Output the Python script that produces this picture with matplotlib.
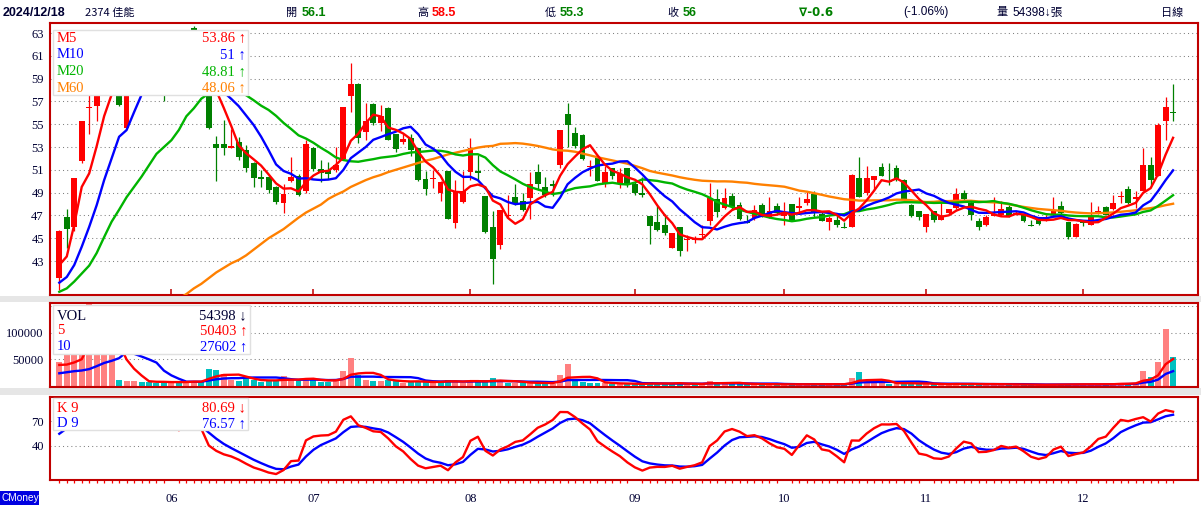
import numpy as np
import pandas as pd
import matplotlib
matplotlib.use("Agg")
import matplotlib.pyplot as plt
from matplotlib.patches import Rectangle

# daily candles, 2024/05/13 .. 2024/12/18
opens = [41.5, 46.9, 46.0, 51.8, 56.4, 56.6, 57.8, 59.5, 59.5, 54.7,
         58.8, 61.8, 61.0, 60.0, 59.0, 58.5, 59.5, 58.8, 63.4, 61.0,
         60.0, 53.3, 53.3, 52.95, 53.4, 52.7, 51.6, 50.4, 50.4, 49.5,
         48.1, 50.05, 50.5, 49.1, 52.9, 51.1, 51.0, 51.0, 51.95, 57.5,
         58.5, 54.3, 56.8, 55.1, 56.4, 54.1, 53.4, 53.8, 52.9, 50.2,
         50.2, 48.95, 50.9, 46.3, 48.15, 50.8, 50.9, 48.7, 46.0, 44.4,
         46.95, 48.6, 48.3, 48.5, 50.85, 49.5, 49.75, 51.45, 55.9, 54.2,
         54.05, 51.25, 52.0, 49.8, 51.15, 49.85, 51.15, 49.8, 48.95, 46.95,
         46.4, 46.2, 44.15, 45.95, 44.85, 44.85, 45.25, 46.55, 48.45, 47.65,
         48.7, 47.95, 46.5, 46.8, 47.95, 46.9, 47.85, 46.95, 48.0, 47.65,
         48.05, 48.9, 47.15, 46.4, 46.6, 45.95, 46.0, 50.3, 48.95, 50.1,
         51.25, 49.95, 51.15, 50.1, 47.95, 47.35, 46.0, 47.35, 46.6, 47.2,
         47.65, 48.95, 48.1, 46.55, 46.2, 46.95, 47.05, 47.75, 47.05, 47.05,
         46.15, 46.6, 46.8, 47.05, 47.85, 46.4, 45.15, 46.55, 46.2, 47.3,
         47.75, 47.55, 48.6, 49.3, 48.45, 49.1, 51.45, 50.5, 55.3, 56.1]
highs = [45.7, 47.6, 50.3, 55.3, 57.6, 58.4, 59.5, 61.0, 60.0, 59.0,
         62.0, 62.5, 61.5, 60.5, 59.8, 60.0, 60.0, 61.0, 63.6, 62.0,
         60.5, 54.0, 55.4, 54.6, 53.9, 53.2, 51.7, 51.0, 50.5, 49.6,
         49.8, 52.1, 50.6, 53.6, 53.0, 51.9, 51.7, 53.0, 56.5, 60.4,
         58.6, 56.9, 56.9, 56.7, 56.5, 54.1, 54.1, 54.1, 52.9, 50.9,
         51.0, 50.0, 50.9, 50.1, 50.9, 53.8, 52.3, 48.7, 47.4, 47.5,
         48.8, 49.75, 49.0, 50.8, 51.5, 50.4, 50.1, 54.5, 56.9, 54.75,
         54.1, 51.85, 52.0, 51.3, 51.2, 51.15, 51.2, 49.9, 50.4, 46.95,
         47.85, 47.15, 45.5, 46.0, 45.3, 45.2, 46.2, 49.85, 49.35, 49.4,
         48.95, 48.2, 47.0, 47.95, 48.1, 48.6, 48.1, 48.2, 48.0, 48.65,
         49.1, 49.1, 47.35, 46.95, 47.25, 46.4, 50.6, 52.1, 51.35, 50.45,
         51.6, 51.6, 51.45, 50.2, 48.0, 47.4, 47.15, 47.4, 48.1, 47.6,
         49.4, 49.25, 48.25, 46.75, 47.05, 48.6, 48.25, 47.95, 47.4, 47.1,
         46.6, 46.7, 47.0, 48.65, 48.3, 46.4, 46.3, 46.6, 48.15, 47.8,
         47.85, 48.75, 49.1, 49.6, 49.1, 52.9, 52.1, 55.1, 57.4, 58.5]
lows = [40.5, 44.1, 45.6, 51.6, 54.1, 55.3, 57.7, 59.0, 56.6, 54.7,
        58.5, 60.5, 59.5, 58.5, 57.0, 58.0, 58.0, 58.5, 60.5, 60.0,
        54.6, 50.0, 52.3, 52.9, 51.9, 50.8, 49.5, 49.5, 49.0, 48.0,
        47.2, 49.9, 48.7, 49.0, 50.9, 49.9, 50.2, 50.8, 51.9, 56.1,
        53.35, 53.6, 54.9, 54.4, 53.6, 52.6, 53.3, 52.2, 50.05, 48.8,
        49.4, 48.3, 46.7, 45.9, 48.1, 50.1, 50.1, 45.5, 41.0, 44.05,
        46.8, 47.9, 47.35, 46.7, 49.25, 48.6, 48.7, 51.2, 53.0, 52.9,
        51.9, 50.5, 50.0, 49.5, 50.2, 49.4, 49.5, 48.8, 48.65, 44.5,
        45.6, 45.3, 44.1, 43.45, 43.9, 44.6, 44.9, 46.2, 46.9, 47.55,
        47.5, 46.6, 46.3, 46.6, 46.9, 46.8, 47.05, 46.2, 46.6, 47.2,
        47.95, 46.9, 46.5, 45.7, 46.0, 45.9, 45.95, 48.6, 48.8, 49.25,
        50.45, 49.7, 50.05, 48.4, 46.9, 46.6, 45.55, 46.4, 46.6, 47.1,
        47.6, 48.3, 46.6, 45.7, 46.05, 46.95, 46.95, 46.9, 47.0, 46.4,
        46.05, 46.2, 46.55, 46.9, 47.05, 44.95, 45.1, 46.05, 46.2, 47.1,
        47.05, 47.5, 48.1, 48.0, 47.65, 49.1, 49.7, 50.5, 53.6, 55.3]
closes = [45.6, 45.8, 50.25, 55.3, 56.5, 57.5, 59.0, 59.7, 56.7, 58.5,
          61.3, 61.0, 60.0, 59.0, 58.5, 59.5, 58.5, 60.5, 61.0, 60.7,
          54.65, 52.9, 52.95, 53.05, 52.15, 51.2, 50.25, 50.2, 49.2, 48.2,
          48.9, 50.4, 48.8, 53.3, 51.1, 50.7, 50.65, 51.4, 56.5, 58.5,
          53.8, 55.3, 55.1, 55.7, 53.65, 52.8, 53.7, 52.7, 50.1, 49.35,
          50.25, 49.95, 46.7, 49.1, 49.15, 52.9, 50.7, 45.55, 43.2, 47.45,
          47.05, 48.1, 47.45, 49.8, 49.75, 48.75, 49.6, 54.5, 54.9, 53.1,
          51.95, 51.35, 50.05, 50.8, 50.45, 50.65, 49.8, 48.95, 48.8, 46.1,
          45.75, 45.5, 45.45, 43.9, 44.95, 44.9, 45.35, 48.5, 47.3, 48.5,
          47.7, 46.7, 46.35, 47.5, 46.95, 47.35, 47.2, 47.25, 46.6, 47.8,
          48.4, 47.3, 46.55, 46.75, 46.2, 45.9, 50.55, 48.65, 50.3, 50.45,
          50.5, 49.9, 50.1, 48.45, 46.95, 46.85, 47.1, 46.6, 46.95, 47.55,
          48.9, 48.4, 47.05, 46.0, 46.85, 47.15, 47.55, 46.95, 47.25, 46.5,
          46.1, 46.25, 46.85, 47.45, 47.25, 45.15, 46.25, 46.3, 46.95, 47.4,
          47.05, 48.1, 48.7, 48.05, 48.6, 51.45, 50.15, 54.95, 56.5, 56.0]
volumes = [45500, 58000, 62000, 66000, 160000, 95000, 70000, 62000, 11000, 9600,
           8500, 7000, 8000, 6000, 9000, 6000, 7000, 8000, 10000, 9000,
           32000, 30000, 22000, 12000, 10000, 14000, 11000, 8000, 9000, 10000,
           18600, 12000, 10000, 15000, 12000, 8000, 7000, 10000, 28000, 52000,
           20000, 12000, 10000, 9000, 11000, 9000, 6000, 7000, 10000, 8000,
           6000, 7000, 12000, 10000, 6000, 10000, 7000, 10000, 14000, 9000,
           6000, 5000, 5000, 7000, 6000, 5000, 4000, 20000, 42000, 10000,
           8000, 5000, 6000, 5000, 4000, 4000, 4000, 4000, 3000, 7000,
           5000, 4000, 4000, 6000, 3000, 3000, 3000, 10000, 6000, 5000,
           4000, 4000, 3000, 3000, 3000, 3000, 3000, 3000, 3000, 3000,
           3000, 4000, 3000, 3000, 3000, 3000, 14000, 26000, 8000, 5000,
           5000, 4000, 5000, 6000, 5000, 3000, 4000, 3000, 3000, 3000,
           5000, 4000, 4000, 3000, 3000, 3000, 3000, 3000, 2000, 3000,
           2000, 2000, 2000, 3000, 3000, 4000, 3000, 2000, 3000, 2000,
           4000, 5000, 5500, 4000, 5500, 28500, 16700, 45000, 107500, 54398]

# indicator values at the left edge (their windows start before the chart)
ma5_head = [42.65, 43.4, 46.2, 49.5]
ma10_head = [41.1, 41.6, 42.65, 44.25, 46.0, 47.9, 50.1, 52.0, 53.9]
ma20_head = [40.3, 40.6, 41.2, 41.9, 42.6, 43.7, 45.1, 46.45, 47.5, 48.6,
             49.5, 50.4, 51.4, 52.4, 53.0, 53.6, 54.5, 55.7, 56.4]
ma60_head = [np.nan] * 16 + [39.7, 40.1, 40.6, 41.0, 41.5, 42.0, 42.4, 42.8, 43.1, 43.5,
                             44.0, 44.5, 45.0, 45.4, 45.8, 46.3, 46.8, 47.25, 47.6, 47.95,
                             48.45, 48.8, 49.1, 49.5, 49.8, 50.1, 50.35, 50.55, 50.8, 51.0,
                             51.2, 51.4, 51.6, 51.8, 51.95, 52.15, 52.35, 52.5, 52.65, 52.8,
                             52.95, 53.05, 53.1]
vma5_head = [39300, 40000, 44000, 50000]
vma10_head = [23700, 25600, 27600, 28900, 31500, 37000, 43000, 47000, 52000]
k_start, d_start = 62.0, 45.0

month_pos = [15, 34, 55, 77, 97, 116, 137]
month_labels = ['06', '07', '08', '09', '10', '11', '12']

W, H = 1201, 512
RED, GREEN = '#FF0000', '#008000'
BORDER = '#C00000'
NAVY = '#000033'
SERIF = ['Liberation Serif', 'DejaVu Serif']
SANS = ['Liberation Sans', 'DejaVu Sans', 'Noto Sans CJK TC']
CJK = ['Noto Sans CJK TC', 'DejaVu Sans']

o = np.array(opens); h = np.array(highs); l = np.array(lows); c = np.array(closes)
v = np.array(volumes, dtype=float)
n = len(c)
x = np.arange(n)

cs = pd.Series(c)
ma5 = cs.rolling(5).mean().to_numpy(); ma5[:4] = ma5_head
ma10 = cs.rolling(10).mean().to_numpy(); ma10[:9] = ma10_head
ma20 = cs.rolling(20).mean().to_numpy(); ma20[:19] = ma20_head
ma60 = cs.rolling(60).mean().to_numpy(); ma60[:59] = ma60_head
vs = pd.Series(v)
vma5 = vs.rolling(5).mean().to_numpy(); vma5[:4] = vma5_head
vma10 = vs.rolling(10).mean().to_numpy(); vma10[:9] = vma10_head

low9 = pd.Series(l).rolling(9, min_periods=1).min().to_numpy()
high9 = pd.Series(h).rolling(9, min_periods=1).max().to_numpy()
rsv = (c - low9) / (high9 - low9) * 100
kk, dd = [], []
kp, dp = k_start, d_start
for r in rsv:
    kp = kp * 2 / 3 + r / 3
    dp = dp * 2 / 3 + kp / 3
    kk.append(kp); dd.append(dp)

fig = plt.figure(figsize=(W / 100, H / 100), dpi=100)
fig.patch.set_facecolor('white')


def box(x0, y0, x1, y1):
    return [x0 / W, 1 - y1 / H, (x1 - x0) / W, (y1 - y0) / H]


def rect(x0, y0, x1, y1, **kw):
    fig.add_artist(Rectangle((x0 / W, 1 - y1 / H), (x1 - x0) / W, (y1 - y0) / H,
                             transform=fig.transFigure, **kw))


def ftext(px, py, s, **kw):
    fig.text(px / W, 1 - py / H, s, **kw)


xlim = ((50 - 59.3) / 7.475, (1198 - 59.3) / 7.475)

ax_p = fig.add_axes(box(50, 23, 1198, 295))
ax_v = fig.add_axes(box(50, 303, 1198, 387))
ax_k = fig.add_axes(box(50, 397, 1198, 480))

for ax in (ax_p, ax_v, ax_k):
    ax.set_xlim(*xlim)
    for sp in ax.spines.values():
        sp.set_color(BORDER)
        sp.set_linewidth(1.5)
    ax.tick_params(axis='y', length=0, pad=4.5, labelsize=9, labelcolor=NAVY)

dots = (0, (1.0, 3.0))

# price panel
ax_p.set_ylim(40.02, 63.88)
pticks = list(range(43, 64, 2))
ax_p.set_yticks(pticks, [str(t) for t in pticks], family=SERIF)
for t in pticks:
    ax_p.axhline(t, color='#808080', lw=0.75, ls=dots, zorder=1)
up = c >= o
ccol = np.where(up, RED, GREEN)
ax_p.vlines(x, l, h, colors=ccol, lw=0.9, zorder=2)
ax_p.bar(x, np.maximum(np.abs(c - o), 0.09), bottom=np.minimum(o, c), width=0.78,
         color=ccol, lw=0, zorder=3)
ax_p.plot(x, ma60, color='#FF8000', lw=1.7, zorder=4)
ax_p.plot(x, ma20, color='#00B400', lw=1.7, zorder=4)
ax_p.plot(x, ma10, color='#0000FF', lw=1.7, zorder=5)
ax_p.plot(x, ma5, color='#FF0000', lw=1.7, zorder=6)
ax_p.set_xticks(month_pos)
ax_p.tick_params(axis='x', direction='in', length=4.5, width=1.1, color=BORDER,
                 labelbottom=False)

# volume panel
ax_v.set_ylim(-2000, 155300)
ax_v.set_yticks([50000, 100000], ['50000', '100000'], family=SERIF)
for t in (50000, 100000, 150000):
    ax_v.axhline(t, color='#808080', lw=0.75, ls=dots, zorder=1)
vup = np.r_[True, c[1:] > c[:-1]]
ax_v.bar(x, v, width=0.8, color=np.where(vup, '#FF8080', '#00C0C0'), lw=0, zorder=2)
ax_v.plot(x, vma10, color='#0000FF', lw=1.7, zorder=4)
ax_v.plot(x, vma5, color='#FF0000', lw=1.7, zorder=5)
ax_v.set_xticks([])

# KD panel
ax_k.set_ylim(-0.8, 98.8)
ax_k.set_yticks([40, 70], ['40', '70'], family=SERIF)
for t in (40, 70):
    ax_k.axhline(t, color='#808080', lw=0.75, ls=dots, zorder=1)
ax_k.plot(x, dd, color='#0000FF', lw=1.7, zorder=4)
ax_k.plot(x, kk, color='#FF0000', lw=1.7, zorder=5)
ax_k.set_xticks(month_pos, month_labels, family=SERIF, fontsize=9, color=NAVY)
ax_k.set_xticks(x, minor=True)
ax_k.tick_params(axis='x', which='major', length=0, pad=9)
ax_k.tick_params(axis='x', which='minor', direction='out', length=2.5, width=0.9,
                 color=RED)

# grey separators
rect(0, 296, W, 302, color='#E6E6E6', lw=0, zorder=-1)
rect(0, 388, W, 395, color='#E6E6E6', lw=0, zorder=-1)

# legends
rect(53, 30, 248, 95, facecolor='white', edgecolor='#E0E0E0', lw=1, zorder=10)
leg = [('M5', '53.86 ↑', RED, 38), ('M10', '51 ↑', '#0000FF', 55),
       ('M20', '48.81 ↑', '#00B400', 71.5), ('M60', '48.06 ↑', '#FF8000', 88)]
for name, val, col, yy in leg:
    ftext(57, yy, name, color=col, family=SERIF, fontsize=10.5, va='center', zorder=11)
    ftext(246, yy, val, color=col, family=SERIF, fontsize=10.5, va='center', ha='right',
          zorder=11)

rect(53, 305, 250, 354, facecolor='white', edgecolor='#E0E0E0', lw=1, zorder=10)
leg = [('VOL', '54398 ↓', NAVY, 316), ('5', '50403 ↑', RED, 331), ('10', '27602 ↑', '#0000FF', 347)]
for name, val, col, yy in leg:
    ftext(57, yy, name, color=col, family=SERIF, fontsize=10.5, va='center', zorder=11)
    ftext(247, yy, val, color=col, family=SERIF, fontsize=10.5, va='center', ha='right',
          zorder=11)

rect(53, 398, 248, 430, facecolor='white', edgecolor='#E0E0E0', lw=1, zorder=10)
leg = [('K 9', '80.69 ↓', RED, 408), ('D 9', '76.57 ↑', '#0000FF', 423.5)]
for name, val, col, yy in leg:
    ftext(57, yy, name, color=col, family=SERIF, fontsize=10.5, va='center', zorder=11)
    ftext(246, yy, val, color=col, family=SERIF, fontsize=10.5, va='center', ha='right',
          zorder=11)

# header line
hy = 12.5
ftext(3, hy, '2024/12/18', color=NAVY, family=SANS, fontsize=9, weight='bold', va='center')
ftext(85, hy, '2374 佳能', color=NAVY, family=CJK, fontsize=8, va='center')
head = [(286, '開', 302, '56.1', GREEN), (417, '高', 432, '58.5', RED),
        (545, '低', 560, '55.3', GREEN), (667, '收', 683, '56', GREEN)]
for x1, lab, x2, val, col in head:
    ftext(x1, hy, lab, color=NAVY, family=CJK, fontsize=8, va='center')
    ftext(x2, hy, val, color=col, family=SANS, fontsize=9, weight='bold', va='center')
ftext(799, hy, '∇-0.6', color=GREEN, family=['DejaVu Sans'], fontsize=8.5, weight='bold',
      va='center')
ftext(903, hy, '(-1.06%)', color=NAVY, family=SANS, fontsize=8.5, va='center')
ftext(996, hy, '量', color=NAVY, family=CJK, fontsize=8, va='center')
ftext(1012, hy, '54398↓張', color=NAVY, family=SANS, fontsize=8.5, va='center')
ftext(1161, hy, '日線', color=NAVY, family=CJK, fontsize=8, va='center')

# CMoney tag
rect(0, 491, 39, 505, color='#0000E0', lw=0, zorder=5)
ftext(1, 498, 'CMoney', color='white', family=SANS, fontsize=7.3, va='center', zorder=6)

fig.savefig('out.png', dpi=100)
